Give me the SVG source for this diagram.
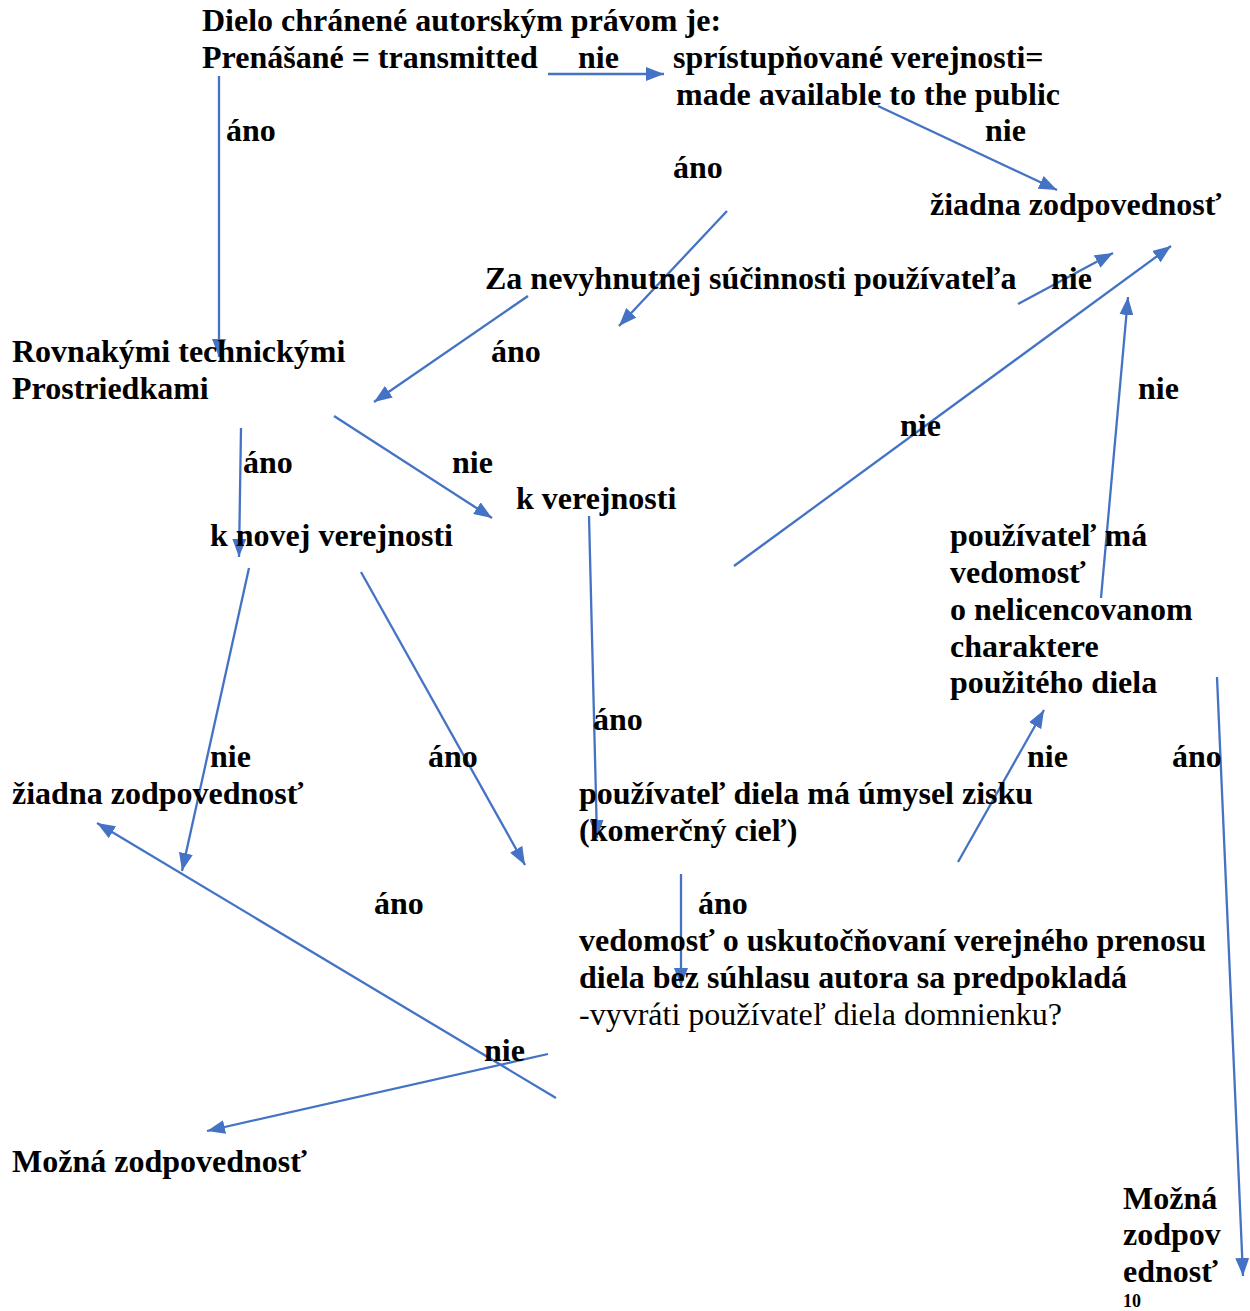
<svg xmlns="http://www.w3.org/2000/svg" width="1250" height="1311" viewBox="0 0 1250 1311">
<style>
text{font-family:"Liberation Serif","Times New Roman",serif;font-size:32px;font-weight:bold;fill:#000}
text.n{font-weight:normal}
text.s{font-size:18px}
.c line{stroke:#4472C4;stroke-width:2.3;fill:none;marker-end:url(#ah)}
</style>
<defs>
<marker id="ah" viewBox="0 0 18 14" refX="18" refY="7" markerWidth="18" markerHeight="14" markerUnits="userSpaceOnUse" orient="auto">
<path d="M0,0 L18,7 L0,14 z" fill="#4472C4"/>
</marker>
</defs>
<rect width="1250" height="1311" fill="#fff"/>
<g id="connectors" class="c">
<line x1="548" y1="74" x2="664" y2="74"/>
<line x1="219" y1="76" x2="219" y2="357"/>
<line x1="878" y1="106" x2="1057" y2="190"/>
<line x1="727" y1="211" x2="619" y2="326"/>
<line x1="528" y1="296" x2="374" y2="402"/>
<line x1="1018" y1="304" x2="1113" y2="253"/>
<line x1="734" y1="566" x2="1171" y2="246"/>
<line x1="1101" y1="598" x2="1128" y2="297"/>
<line x1="241" y1="428" x2="239" y2="557"/>
<line x1="334" y1="416" x2="492" y2="518"/>
<line x1="589" y1="516" x2="597" y2="838"/>
<line x1="249" y1="568" x2="182" y2="871"/>
<line x1="361" y1="572" x2="525" y2="865"/>
<line x1="556" y1="1098" x2="97" y2="823"/>
<line x1="958" y1="862" x2="1044" y2="710"/>
<line x1="681" y1="874" x2="681" y2="986"/>
<line x1="548" y1="1054" x2="207" y2="1131"/>
<line x1="1217" y1="677" x2="1243" y2="1276"/>
</g>
<g id="labels">
<text x="578" y="67.8">nie</text>
<text x="226" y="141.4">áno</text>
<text x="985" y="141.4">nie</text>
<text x="673" y="178.2">áno</text>
<text x="1051" y="288.6">nie</text>
<text x="491" y="362.2">áno</text>
<text x="1138" y="399">nie</text>
<text x="900" y="435.8">nie</text>
<text x="243" y="472.6">áno</text>
<text x="452" y="472.6">nie</text>
<text x="593" y="730.2">áno</text>
<text x="210" y="767">nie</text>
<text x="428" y="767">áno</text>
<text x="1027" y="767">nie</text>
<text x="1172" y="767">áno</text>
<text x="374" y="914.2">áno</text>
<text x="698" y="914.2">áno</text>
<text x="484" y="1061.4">nie</text>
</g>
<g id="n-dielo"><text x="202" y="31">Dielo chránené autorským právom je:</text><text x="202" y="67.8">Prenášané = transmitted</text></g>
<g id="n-spristupnovane"><text x="673" y="67.8">sprístupňované verejnosti=</text><text x="676" y="104.6">made available to the public</text></g>
<g id="n-ziadna1"><text x="930" y="215">žiadna zodpovednosť</text></g>
<g id="n-sucinnost"><text x="485" y="288.6">Za nevyhnutnej súčinnosti používateľa</text></g>
<g id="n-rovnakymi"><text x="12" y="362.2">Rovnakými technickými</text><text x="12" y="399">Prostriedkami</text></g>
<g id="n-kverejnosti"><text x="516" y="509.4">k verejnosti</text></g>
<g id="n-knovej"><text x="210" y="546.2">k novej verejnosti</text></g>
<g id="n-vedomost-nelic"><text x="950" y="546.2">používateľ má</text><text x="950" y="583">vedomosť</text><text x="950" y="619.8">o nelicencovanom</text><text x="950" y="656.6">charaktere</text><text x="950" y="693.4">použitého diela</text></g>
<g id="n-ziadna2"><text x="12" y="803.8">žiadna zodpovednosť</text></g>
<g id="n-zisk"><text x="579" y="803.8">používateľ diela má úmysel zisku</text><text x="579" y="840.6">(komerčný cieľ)</text></g>
<g id="n-vedomost-prenos"><text x="579" y="951">vedomosť o uskutočňovaní verejného prenosu</text><text x="579" y="987.8">diela bez súhlasu autora sa predpokladá</text><text class="n" x="579" y="1024.6">-vyvráti používateľ diela domnienku?</text></g>
<g id="n-mozna1"><text x="12" y="1171.8">Možná zodpovednosť</text></g>
<g id="n-mozna2"><text x="1123" y="1208.6">Možná</text><text x="1123" y="1245.4">zodpov</text><text x="1123" y="1282.2">ednosť</text></g>
<g id="page-number"><text class="s" x="1123" y="1307">10</text></g>
</svg>
